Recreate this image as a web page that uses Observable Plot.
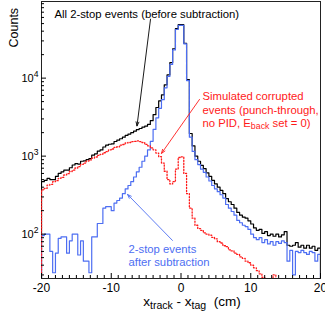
<!DOCTYPE html>
<html><head><meta charset="utf-8">
<script src="https://cdn.jsdelivr.net/npm/d3@7"></script>
<script src="https://cdn.jsdelivr.net/npm/@observablehq/plot@0.6"></script>
<style>
html,body{margin:0;padding:0;background:#fff;}
</style></head><body><div id="chart"></div>
<script>
// Histogram bins: 100 bins of 0.4 cm from -20 to 20 cm
const binStart = -20, binWidth = 0.4;

// All 2-stop events (before subtraction)
const allEvents = [
 470,490,520,500,500,550,600,630,660,660,
 710,770,800,790,860,870,900,930,1030,1070,
 1160,1200,1310,1380,1420,1440,1540,1600,1670,1750,
 1850,1920,2000,2090,2190,2260,2350,2420,2550,2850,
 3400,4200,5100,6100,8200,11000,15800,23800,43000,48500,
 48500,28000,9600,1950,1350,1000,860,760,690,610,
 550,490,440,400,365,330,285,260,240,215,
 190,175,165,160,148,135,120,112,115,102,
 108,96,100,94,100,92,98,108,72,70,
 72,78,68,72,66,72,66,70,62,66
];

// 2-stop events after subtraction
const afterSub = [
 96,100,100,60,32,57,88,92,92,57,
 82,100,100,54,82,45,45,32,92,92,
 137,137,215,225,225,200,250,270,290,330,
 380,420,470,540,630,720,860,1000,1200,1550,
 2200,3100,4100,5300,7500,10500,15000,23000,42000,47500,
 47500,27500,9300,1750,1150,900,780,680,620,540,
 480,420,380,350,320,290,240,215,195,175,
 150,140,130,125,115,100,90,85,90,78,
 85,75,80,72,80,76,82,78,45,62,
 30,60,58,62,58,55,60,58,45,55
];

// Simulated corrupted events (punch-through, no PID, Eback set = 0)
const simulated = [
 370,385,425,435,470,485,520,535,575,595,
 635,660,705,735,785,815,865,895,945,975,
 1025,1055,1105,1140,1205,1235,1295,1320,1385,1410,
 1475,1495,1535,1545,1565,1535,1495,1415,1355,1275,
 1205,1095,985,815,640,500,440,470,680,960,
 980,600,330,215,160,130,118,112,104,100,
 97,91,87,80,77,71,69,63,61,57,
 55,51,49,45,43,40,37,34,31,28,
 25,23,22,30,26,18,15,15,15,15,
 15,15,15,15,15,15,15,15,15,15
];

const xTicksMajor = [-20, -10, 0, 10, 20];
const xTicksMinor = [-19,-18,-17,-16,-15,-14,-13,-12,-11,-9,-8,-7,-6,-5,-4,-3,-2,-1,1,2,3,4,5,6,7,8,9,11,12,13,14,15,16,17,18,19];
const yTicksMajor = [100, 1000, 10000];
const yTicksMinor = [30,40,50,60,70,80,90,200,300,400,500,600,700,800,900,2000,3000,4000,5000,6000,7000,8000,9000,20000,30000,40000,50000,60000,70000,80000,90000];

const black = "#000000", blue = "#4d6ef2", red = "#ff1a1a";

const blackNotes = [{text: "All 2-stop events (before subtraction)", x: -18.14, y: 66500}];
const redNotes = [
  {text: "Simulated corrupted", x: 3.08, y: 5915},
  {text: "events (punch-through,", x: 3.08, y: 3908},
  {text: "no PID, E_{back} set = 0)", x: 3.08, y: 2667}
];
const blueNotes = [
  {text: "2-stop events", x: -7.53, y: 63.6},
  {text: "after subtraction", x: -7.53, y: 44}
];
const blackArrow = [{x1: -4.37, y1: 57000, x2: -6.31, y2: 2440}];
const redArrow = [{x1: 2.65, y1: 5330, x2: -2.8, y2: 1083}];
const blueArrow = [{x1: -1.22, y1: 83, x2: -7.67, y2: 323}];

function outline(values) {
  const pts = [{x: binStart, y: 1}];
  values.forEach((v, i) => pts.push({x: binStart + i * binWidth, y: v}));
  const end = binStart + values.length * binWidth;
  pts.push({x: end, y: values[values.length - 1]});
  pts.push({x: end, y: 1});
  return pts;
}

const font = "'Liberation Sans', Arial, Helvetica, sans-serif";

const chart = Plot.plot({
  width: 325, height: 317,
  marginLeft: 41, marginRight: 5, marginTop: 1, marginBottom: 39,
  style: {fontFamily: font, fontSize: "11px", color: "#000", background: "#fff"},
  x: {domain: [-20, 20]},
  y: {type: "log", domain: [27, 96000]},
  marks: [
    Plot.frame({stroke: "#222"}),
    Plot.line(outline(allEvents), {x: "x", y: "y", curve: "step-after", stroke: black, strokeWidth: 1.2, clip: true}),
    Plot.line(outline(afterSub), {x: "x", y: "y", curve: "step-after", stroke: blue, strokeWidth: 1.2, clip: true}),
    Plot.line(outline(simulated), {x: "x", y: "y", curve: "step-after", stroke: red, strokeWidth: 1.3, strokeDasharray: "1.2,1.8", clip: true}),
    Plot.axisX(xTicksMajor, {anchor: "bottom", tickSize: -5, fill: "none", label: null}),
    Plot.axisX(xTicksMinor, {anchor: "bottom", tickSize: -3, fill: "none", label: null}),
    Plot.axisX(xTicksMajor, {anchor: "bottom", tickSize: 0, tickPadding: 4.5, fontSize: 12, label: null, tickFormat: d => String(d)}),
    Plot.axisY(yTicksMajor, {anchor: "left", tickSize: -5, fill: "none", label: null}),
    Plot.axisY(yTicksMinor, {anchor: "left", tickSize: -3, fill: "none", label: null}),
    Plot.axisY(yTicksMajor, {anchor: "left", tickSize: 0, tickPadding: 3, fontSize: 11, label: null, tickFormat: d => "10^{" + Math.round(Math.log10(d)) + "}"}),
    Plot.text(["Counts"], {frameAnchor: "top-left", dx: -32, dy: 46, rotate: -90, fontSize: 12.5}),
    Plot.text(["x_{track} - x_{tag}\u00a0\u00a0(cm)"], {frameAnchor: "bottom", dx: 11, dy: 27, fontSize: 13.5}),
    Plot.text(blackNotes, {x: "x", y: "y", text: "text", fill: black, textAnchor: "start", fontSize: 11.3}),
    Plot.text(redNotes, {x: "x", y: "y", text: "text", fill: red, textAnchor: "start", fontSize: 11.3}),
    Plot.text(blueNotes, {x: "x", y: "y", text: "text", fill: blue, textAnchor: "start", fontSize: 11.3}),
    Plot.arrow(blackArrow, {x1: "x1", y1: "y1", x2: "x2", y2: "y2", stroke: black, strokeWidth: 0.9, headLength: 7, headAngle: 40}),
    Plot.arrow(redArrow, {x1: "x1", y1: "y1", x2: "x2", y2: "y2", stroke: red, strokeWidth: 0.9, headLength: 7, headAngle: 40}),
    Plot.arrow(blueArrow, {x1: "x1", y1: "y1", x2: "x2", y2: "y2", stroke: blue, strokeWidth: 0.9, headLength: 7, headAngle: 40})
  ]
});
document.getElementById("chart").appendChild(chart);

// Turn ^{..} and _{..} markers into superscript / subscript tspans
function richify(el) {
  const s = el.textContent;
  if (!/[\^_]\{/.test(s)) return;
  const fs = parseFloat(getComputedStyle(el).fontSize) || 11;
  const parts = s.split(/([\^_]\{[^}]*\})/).filter(p => p.length);
  el.textContent = "";
  let shift = 0, first = true;
  for (const p of parts) {
    const t = document.createElementNS("http://www.w3.org/2000/svg", "tspan");
    let target = 0, content = p, small = false;
    if (p.startsWith("^{")) { target = -0.45 * fs; content = p.slice(2, -1); small = true; }
    else if (p.startsWith("_{")) { target = 0.25 * fs; content = p.slice(2, -1); small = true; }
    if (!(first && target === 0)) t.setAttribute("dy", (target - shift).toFixed(2));
    shift = target; first = false;
    if (small) t.setAttribute("font-size", (0.78 * fs).toFixed(2));
    t.textContent = content;
    el.appendChild(t);
  }
}
chart.querySelectorAll("text").forEach(richify);
</script>
</body></html>
